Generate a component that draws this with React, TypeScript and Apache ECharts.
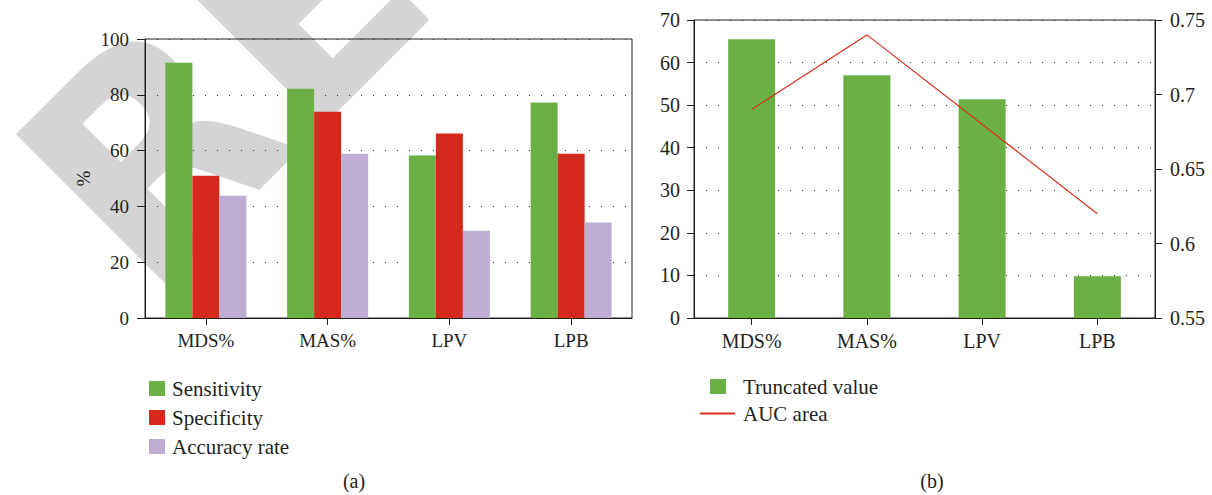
import React, { useEffect, useRef } from "react";
import * as echarts from "echarts";

const categories = ["MDS%", "MAS%", "LPV", "LPB"];
const sensitivity = [91.5, 82.2, 58.2, 77.2];
const specificity = [51.0, 73.9, 66.1, 58.9];
const accuracyRate = [43.8, 58.9, 31.3, 34.2];
const truncatedValue = [65.5, 57.0, 51.4, 9.8];
const aucArea = [0.69, 0.74, 0.68, 0.62];

const FONT = "Liberation Serif";
const INK = "#231f20";
const GREEN = "#6bb045";
const RED = "#d5291b";
const PURPLE = "#beaed4";
const LINE_RED = "#d9301f";

export default function App() {
  const ref = useRef<HTMLDivElement>(null);
  useEffect(() => {
    if (!ref.current) return;
    const chart = echarts.init(ref.current, null, { renderer: "svg" });
    const axisLine = { show: true, lineStyle: { color: INK, width: 1 } };
    const axisTick = { show: true, length: 7, lineStyle: { color: INK, width: 1 } };
    const split = { show: true, lineStyle: { type: [1, 11], color: "#333", width: 1 } };
    chart.setOption({
      animation: false,
      backgroundColor: "#fff",
      textStyle: { fontFamily: FONT },
      grid: [
        { left: 145, top: 39, width: 487, height: 279, show: true, borderColor: INK, borderWidth: 1 },
        { left: 694, top: 20, width: 461, height: 298, show: true, borderColor: INK, borderWidth: 1 },
      ],
      xAxis: [
        {
          type: "category", gridIndex: 0, data: categories,
          axisLine, axisTick: { ...axisTick, alignWithLabel: true },
          axisLabel: { color: INK, fontSize: 19, fontFamily: FONT, margin: 13 },
        },
        {
          type: "category", gridIndex: 1, data: categories,
          axisLine, axisTick: { ...axisTick, alignWithLabel: true },
          axisLabel: { color: INK, fontSize: 20, fontFamily: FONT, margin: 13 },
        },
      ],
      yAxis: [
        {
          type: "value", gridIndex: 0, min: 0, max: 100, interval: 20,
          axisLine, axisTick: { ...axisTick, length: 8 },
          axisLabel: { color: INK, fontSize: 19, fontFamily: FONT, margin: 16 },
          splitLine: split,
          name: "%", nameLocation: "middle", nameGap: 52,
          nameTextStyle: { color: INK, fontSize: 19, fontFamily: FONT },
        },
        {
          type: "value", gridIndex: 1, min: 0, max: 70, interval: 10,
          axisLine, axisTick,
          axisLabel: { color: INK, fontSize: 20, fontFamily: FONT, margin: 14 },
          splitLine: split,
        },
        {
          type: "value", gridIndex: 1, position: "right", min: 0.55, max: 0.75, interval: 0.05,
          axisLine, axisTick,
          axisLabel: { color: INK, fontSize: 20, fontFamily: FONT, margin: 15 },
          splitLine: { show: false },
        },
      ],
      legend: [
        {
          data: ["Sensitivity", "Specificity", "Accuracy rate"],
          orient: "vertical", left: 144, top: 373, icon: "rect",
          itemWidth: 16, itemHeight: 15, itemGap: 8,
          textStyle: { color: INK, fontSize: 21, fontFamily: FONT, lineHeight: 20, padding: [0, 0, 0, 2] },
        },
        {
          data: ["Truncated value"],
          orient: "vertical", left: 705, top: 371, icon: "rect",
          itemWidth: 16, itemHeight: 15,
          textStyle: { color: INK, fontSize: 21, fontFamily: FONT, lineHeight: 20, padding: [0, 0, 0, 12] },
        },
        {
          data: ["AUC area"],
          orient: "vertical", left: 695, top: 398, icon: "rect",
          itemWidth: 35, itemHeight: 2,
          textStyle: { color: INK, fontSize: 21, fontFamily: FONT, lineHeight: 20, padding: [0, 0, 0, 3] },
        },
      ],
      graphic: [
        {
          type: "text", z: -10, x: 178, y: 334, rotation: Math.PI / 4,
          style: {
            text: "RETRACTED", fill: "#d4d4d4", fontSize: 290, fontWeight: "bold",
            fontFamily: "DejaVu Sans", align: "left", verticalAlign: "bottom",
          },
        },
        {
          type: "text", x: 354, y: 481,
          style: { text: "(a)", fill: INK, fontSize: 20, fontFamily: FONT, align: "center", verticalAlign: "middle" },
        },
        {
          type: "text", x: 932, y: 481,
          style: { text: "(b)", fill: INK, fontSize: 20, fontFamily: FONT, align: "center", verticalAlign: "middle" },
        },
      ],
      series: [
        { name: "Sensitivity", type: "bar", xAxisIndex: 0, yAxisIndex: 0, data: sensitivity, barWidth: 27, barGap: "0%", itemStyle: { color: GREEN } },
        { name: "Specificity", type: "bar", xAxisIndex: 0, yAxisIndex: 0, data: specificity, barWidth: 27, barGap: "0%", itemStyle: { color: RED } },
        { name: "Accuracy rate", type: "bar", xAxisIndex: 0, yAxisIndex: 0, data: accuracyRate, barWidth: 27, barGap: "0%", itemStyle: { color: PURPLE } },
        { name: "Truncated value", type: "bar", xAxisIndex: 1, yAxisIndex: 1, data: truncatedValue, barWidth: 47, itemStyle: { color: GREEN } },
        { name: "AUC area", type: "line", xAxisIndex: 1, yAxisIndex: 2, data: aucArea, symbol: "none", lineStyle: { color: LINE_RED, width: 1.2 }, itemStyle: { color: LINE_RED } },
      ],
    });
    return () => chart.dispose();
  }, []);
  return <div ref={ref} style={{ position: "absolute", left: 0, top: 0, width: 1212, height: 495 }} />;
}
